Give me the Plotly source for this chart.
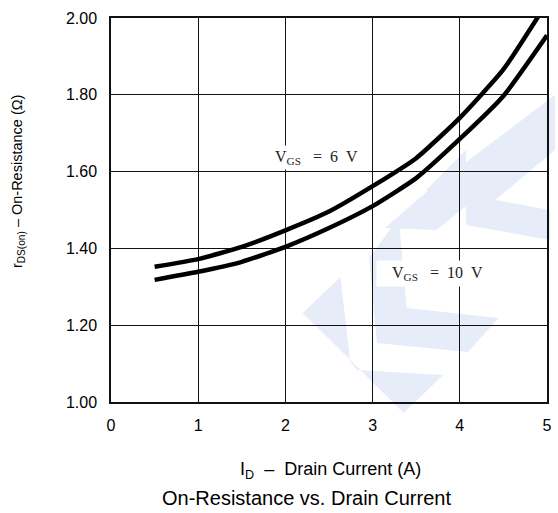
import plotly.graph_objects as go

# Data
current_a = [0.5, 1.0, 1.5, 2.0, 2.5, 3.0, 3.5, 4.0, 4.5, 5.0]
rds_vgs6 = [1.352, 1.372, 1.404, 1.447, 1.496, 1.562, 1.635, 1.740, 1.866, 2.040]
rds_vgs10 = [1.318, 1.339, 1.365, 1.404, 1.453, 1.510, 1.583, 1.685, 1.797, 1.955]

x_ticks = [0, 1, 2, 3, 4, 5]
y_ticks = [1.00, 1.20, 1.40, 1.60, 1.80, 2.00]

W, H = 558, 513
L, R, T, B = 111, 6, 18, 111
PW, PH = W - L - R, H - T - B

def px(xp, yp):
    return ((xp - L) / PW, (H - B - yp) / PH)

# faint watermark polygons (pixel coordinates)
wm_polys = [
    [(305, 313), (343, 277), (353, 362), (360, 370), (447, 375), (407, 413)],
    [(372, 258), (402, 218), (410, 308), (503, 318), (472, 352), (380, 343)],
    [(388, 228), (430, 192), (560, 95), (560, 135), (440, 230)],
    [(470, 170), (530, 128), (560, 110), (560, 150), (500, 200), (555, 210), (555, 240), (470, 225)],
    [(430, 190), (470, 150), (470, 170), (440, 200)],
]

shapes = []
for poly in wm_polys:
    pts = [px(a, b) for a, b in poly]
    path = "M " + " L ".join(f"{a:.4f},{b:.4f}" for a, b in pts) + " Z"
    shapes.append(dict(type="path", path=path, xref="paper", yref="paper",
                       fillcolor="#e6ecf8", line=dict(width=0), layer="below"))

fig = go.Figure()
fig.add_trace(go.Scatter(x=current_a, y=rds_vgs6, mode="lines",
                         line=dict(color="black", width=4.5, shape="spline", smoothing=0.5),
                         showlegend=False))
fig.add_trace(go.Scatter(x=current_a, y=rds_vgs10, mode="lines",
                         line=dict(color="black", width=4.5, shape="spline", smoothing=0.5),
                         showlegend=False))

sans = "Liberation Sans, Arial"
tickfont = dict(family=sans, size=16, color="black")
serif = dict(family="Liberation Serif, DejaVu Serif", size=16, color="#222")
nb = "\u00a0"

xt = px(333, 470)
tt = px(309, 498)
yt = px(17, 182)

annotations = [
    dict(x=2.36, y=1.638, xref="x", yref="y", showarrow=False,
         text=f"V<sub>GS</sub>{nb*3}={nb*2}6{nb*2}V", font=serif, bgcolor="white", borderpad=2),
    dict(x=3.68, y=1.335, xref="x", yref="y", showarrow=False,
         text=f"{nb*3}V<sub>GS</sub>{nb*3}={nb*2}10{nb*2}V", font=serif, bgcolor="white", borderpad=3),
    dict(x=xt[0], y=xt[1], xref="paper", yref="paper", showarrow=False,
         xanchor="center", yanchor="middle",
         text=f"I<sub>D</sub>{nb*2}–{nb*2}Drain Current (A)",
         font=dict(family=sans, size=18, color="black")),
    dict(x=tt[0], y=tt[1], xref="paper", yref="paper", showarrow=False,
         xanchor="center", yanchor="middle",
         text="On-Resistance vs. Drain Current",
         font=dict(family=sans, size=20, color="black")),
    dict(x=yt[0], y=yt[1], xref="paper", yref="paper", showarrow=False,
         xanchor="center", yanchor="middle", textangle=-90,
         text="r<sub>DS(on)</sub> – On-Resistance (Ω)",
         font=dict(family=sans, size=14.5, color="black")),
]

fig.update_layout(
    width=W, height=H,
    margin=dict(l=L, r=R, t=T, b=B),
    paper_bgcolor="white", plot_bgcolor="white",
    shapes=shapes, annotations=annotations,
    xaxis=dict(range=[0, 5], tickvals=x_ticks, ticktext=[str(v) for v in x_ticks],
               showgrid=True, gridcolor="#111", gridwidth=1,
               showline=True, linecolor="#111", linewidth=1.5, mirror=True,
               ticks="outside", ticklen=8, tickcolor="rgba(0,0,0,0)",
               tickfont=tickfont, zeroline=False),
    yaxis=dict(range=[1.0, 2.0], tickvals=y_ticks, ticktext=[f"{v:.2f}" for v in y_ticks],
               showgrid=True, gridcolor="#111", gridwidth=1,
               showline=True, linecolor="#111", linewidth=1.5, mirror=True,
               ticks="outside", ticklen=9, tickcolor="rgba(0,0,0,0)",
               tickfont=tickfont, zeroline=False),
)

fig.write_html("out.html")
